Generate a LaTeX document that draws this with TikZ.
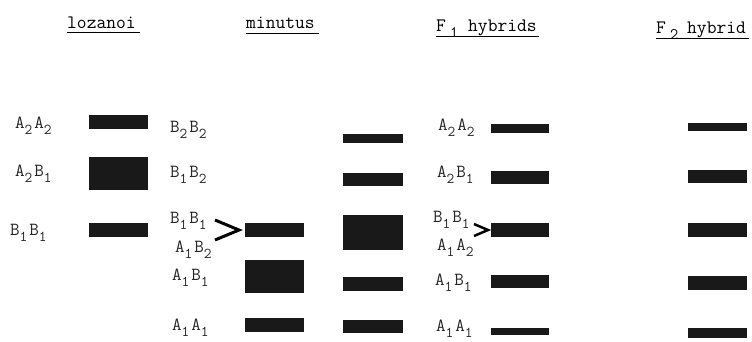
\documentclass[tikz,border=0pt]{standalone}
\usepackage{fontspec}
% letter with a lowered index digit
\newcommand\gn[2]{#1\raisebox{-0.36em}{\fontsize{15}{15}\selectfont #2}\kern0.1em}
\begin{document}
\begin{tikzpicture}[x=1pt,y=-1pt,
  title/.style={anchor=base west,inner sep=0pt,font=\ttfamily\fontsize{19}{19}\selectfont},
  tsub/.style={anchor=base west,inner sep=0pt,font=\ttfamily\fontsize{16}{16}\selectfont},
  geno/.style={anchor=base west,inner sep=0pt,font=\ttfamily\fontsize{18.5}{18.5}\selectfont,text=black!85},
  band/.style={fill=black!90},
  chev/.style={line width=3pt,line cap=butt,line join=miter}]
\useasboundingbox (0,0) rectangle (752,341);

% column titles with underlines
\node[title] (tlo) at (67,28) {lozanoi};
\node[title] (tmi) at (246,28) {minutus};
\node[title] (tf1) at (436,31) {F};
\node[tsub] (tf1n) at (450,37) {1};
\node[title] (tf1h) at (468,31) {hybrids};
\node[title] (tf2) at (656,33) {F};
\node[tsub] (tf2n) at (670,39) {2};
\node[title] (tf2h) at (687,33) {hybrid};
\draw[line width=0.9pt] (67,32.5) -- (140,32.5);
\draw[line width=0.9pt] (246,33) -- (319,33);
\draw[line width=0.9pt] (436,36) -- (539,36);
\draw[line width=0.9pt] (656,38) -- (749,38);

% lozanoi
\node[geno] (l1) at (15,128) {\gn{A}{2}\gn{A}{2}};
\node[geno] (l2) at (15,176) {\gn{A}{2}\gn{B}{1}};
\node[geno] (l3) at (10,235) {\gn{B}{1}\gn{B}{1}};
\fill[band] (89,115) rectangle (148,129);
\fill[band] (89,157) rectangle (148,190);
\fill[band] (89,223) rectangle (148,237);

% minutus
\node[geno] (m1) at (170,132) {\gn{B}{2}\gn{B}{2}};
\node[geno] (m2) at (170,177) {\gn{B}{1}\gn{B}{2}};
\node[geno] (m3) at (170,223) {\gn{B}{1}\gn{B}{1}};
\node[geno] (m4) at (175,252) {\gn{A}{1}\gn{B}{2}};
\node[geno] (m5) at (172,280) {\gn{A}{1}\gn{B}{1}};
\node[geno] (m6) at (172,330) {\gn{A}{1}\gn{A}{1}};
\draw[chev] (215,220) -- (239,230) -- (215,240);
\fill[band] (245,223) rectangle (304,237);
\fill[band] (245,260) rectangle (304,293);
\fill[band] (245,318) rectangle (304,332);
\fill[band] (343,134) rectangle (403,143);
\fill[band] (343,173) rectangle (403,186);
\fill[band] (343,215) rectangle (403,250);
\fill[band] (343,277) rectangle (403,291);
\fill[band] (343,320) rectangle (403,333);

% F1 hybrids
\node[geno] (f1) at (438,130) {\gn{A}{2}\gn{A}{2}};
\node[geno] (f2) at (437,177) {\gn{A}{2}\gn{B}{1}};
\node[geno] (f3) at (433,222) {\gn{B}{1}\gn{B}{1}};
\node[geno] (f4) at (437,250) {\gn{A}{1}\gn{A}{2}};
\node[geno] (f5) at (435,285) {\gn{A}{1}\gn{B}{1}};
\node[geno] (f6) at (436,331) {\gn{A}{1}\gn{A}{1}};
\draw[chev,line width=2.5pt] (474,224) -- (488,230) -- (474,236);
\fill[band] (491,124) rectangle (549,133);
\fill[band] (491,171) rectangle (549,184);
\fill[band] (491,223) rectangle (549,237);
\fill[band] (491,275) rectangle (549,288);
\fill[band] (491,328) rectangle (549,335);

% F2 hybrid
\fill[band] (688,123) rectangle (747,131);
\fill[band] (688,170) rectangle (747,183);
\fill[band] (688,223) rectangle (747,237);
\fill[band] (688,276) rectangle (747,290);
\fill[band] (688,328) rectangle (747,338);
\end{tikzpicture}
\end{document}
